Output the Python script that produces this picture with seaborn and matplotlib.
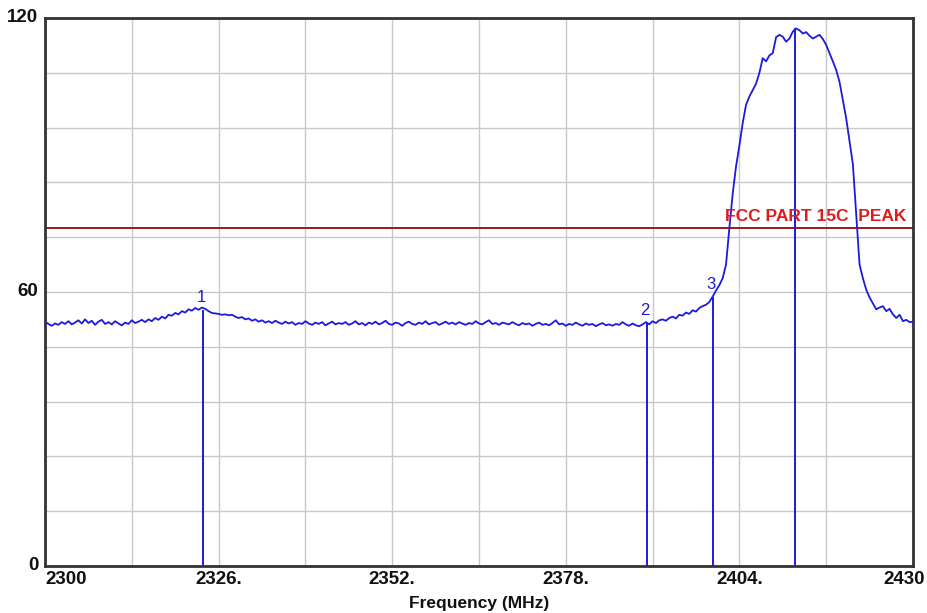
import numpy as np
import pandas as pd
import matplotlib
matplotlib.use("Agg")
import matplotlib.pyplot as plt
import matplotlib.transforms as mtransforms
import seaborn as sns

# trace: 2300..2430 MHz in 0.5 MHz steps, level
freq_start, freq_step = 2300.0, 0.5
level = [
    53.5, 53.0, 52.6, 53.1, 52.8, 53.4, 53.0, 53.6, 52.9, 53.3,
    53.8, 53.1, 54.0, 53.2, 53.7, 52.8, 53.5, 53.9, 53.0, 53.4,
    52.9, 53.6, 53.1, 52.7, 53.3, 53.0, 53.8, 53.2, 53.5, 53.9,
    53.4, 54.0, 53.6, 54.3, 53.9, 54.6, 54.2, 55.0, 54.8, 55.4,
    55.1, 55.8, 55.5, 56.2, 55.9, 56.5, 56.1, 56.6, 56.3, 55.8,
    55.4, 55.3, 55.2, 55.0, 55.1, 54.9, 55.0, 54.6, 54.3, 54.5,
    54.0, 54.2, 53.7, 54.0, 53.5, 53.8, 53.3, 53.6, 53.2, 53.7,
    53.3, 53.0, 53.5, 53.1, 53.4, 52.8, 53.2, 53.0, 53.6, 53.1,
    52.8, 53.3, 53.0, 53.4, 52.7, 53.1, 53.5, 52.9, 53.2, 53.0,
    53.4, 52.8, 53.1, 53.6, 52.9, 53.2, 52.7, 53.3, 53.0, 53.5,
    52.9, 53.2, 53.7, 53.0, 52.8, 53.3, 53.1, 52.6, 53.2, 53.5,
    53.0, 52.8, 53.3, 53.0, 53.6, 52.9, 53.2, 53.4, 52.8, 53.1,
    53.5, 53.0, 53.3, 52.9, 53.4, 53.1, 52.8, 53.2, 53.0, 53.6,
    53.1, 52.9, 53.4, 53.8, 53.0, 53.2, 52.8, 53.3, 53.1, 52.9,
    53.4, 53.0, 52.7, 53.2, 52.9, 53.1, 52.6, 53.0, 53.3, 52.8,
    53.0, 52.7, 53.2, 53.8, 52.9, 53.1, 52.6, 53.0, 52.8, 53.3,
    52.9, 52.6, 53.1, 52.8, 53.0, 52.5, 52.9, 53.2, 52.7, 52.9,
    52.6, 53.0, 52.8, 53.4, 52.9, 52.6, 53.1, 52.7, 52.5, 52.9,
    53.4, 52.9, 53.6, 53.2, 53.8, 54.0, 53.7, 54.3, 54.6, 54.2,
    55.0, 54.8, 55.5, 55.2, 56.0, 55.7, 56.5, 56.9, 57.2, 57.8,
    59.0, 60.3, 61.5, 63.0, 66.0, 74.0, 81.5, 87.5, 92.0, 97.0,
    101.0, 102.8, 104.2, 105.6, 108.0, 111.2, 110.5, 111.8, 112.3, 115.8,
    116.3, 115.9, 114.8, 115.5, 117.0, 117.7, 117.3, 116.6, 116.9, 116.1,
    115.5, 115.9, 116.3, 115.4, 114.1, 112.3, 110.5, 108.6, 106.0, 102.0,
    98.0, 93.0, 88.0, 77.0, 66.0, 63.0, 60.5, 58.8, 57.5, 56.2,
    56.6, 56.9, 55.8, 56.3, 55.1, 54.3, 55.0, 53.6, 53.9, 53.4,
    53.5,
]
freq = freq_start + freq_step * np.arange(len(level))

marker_freq = [2323.7, 2390.2, 2400.0, 2412.3]
marker_level = [56.1, 53.2, 59.0, 117.7]
marker_labels = ["1", "2", "3", ""]

limit_level = 74.0
limit_label = "FCC PART 15C  PEAK"

xtick_vals = [2300, 2326, 2352, 2378, 2404, 2430]
xtick_labels = ["2300", "2326.", "2352.", "2378.", "2404.", "2430"]
ytick_vals = [0, 60, 120]

sns.set_style("white")
plt.rcParams["font.family"] = ["Liberation Sans", "DejaVu Sans"]

fig = plt.figure(figsize=(9.28, 6.13), dpi=100)
ax = fig.add_axes([0.0485, 0.0767, 0.9353, 0.8940])

df = pd.DataFrame({"freq": freq, "level": level})
sns.lineplot(data=df, x="freq", y="level", ax=ax, color="#1a1ae0", linewidth=1.3, zorder=3)

# markers
ax.vlines(marker_freq, 0, marker_level, colors="#1a1ae0", linewidth=1.4, zorder=3)
for f, v, lab in zip(marker_freq, marker_level, marker_labels):
    if lab:
        ax.text(f - 0.3, v + 1.0, lab, color="#1a1ae0", fontsize=12,
                ha="center", va="bottom", zorder=4)

# limit line
ax.axhline(limit_level, color="#a01818", linewidth=1.4, zorder=2)
ax.text(2429.0, limit_level + 0.9, limit_label, color="#e01a1a", fontsize=12.5,
        fontweight="bold", ha="right", va="bottom", zorder=4)

ax.set_xlim(2300, 2430)
ax.set_ylim(0, 120)
ax.set_xticks(np.arange(2300, 2431, 13))
ax.set_yticks(np.arange(0, 121, 12))
ax.grid(True, color="#c8c8c8", linewidth=1.0)
ax.tick_params(length=0, labelbottom=False, labelleft=False)

for v, lab in zip(xtick_vals, xtick_labels):
    ha = "left" if v == xtick_vals[0] else "center"
    tr = ax.transData
    if v == xtick_vals[-1]:
        tr = mtransforms.offset_copy(ax.transData, fig=fig, x=-9, y=0, units="dots")
    ax.text(v, -1.2, lab, fontsize=13.5, fontweight="bold", ha=ha, va="top",
            color="#111111", transform=tr)
for v in ytick_vals:
    ax.text(2299.0, v, str(v), fontsize=13.5, fontweight="bold", ha="right",
            va="center", color="#111111")

ax.text(0.5, -0.055, "Frequency (MHz)", transform=ax.transAxes, fontsize=12.5,
        fontweight="bold", ha="center", va="top", color="#111111")
ax.set_xlabel("")
ax.set_ylabel("")

for s in ax.spines.values():
    s.set_color("#333333")
    s.set_linewidth(2)

fig.savefig("out.png", dpi=100)
